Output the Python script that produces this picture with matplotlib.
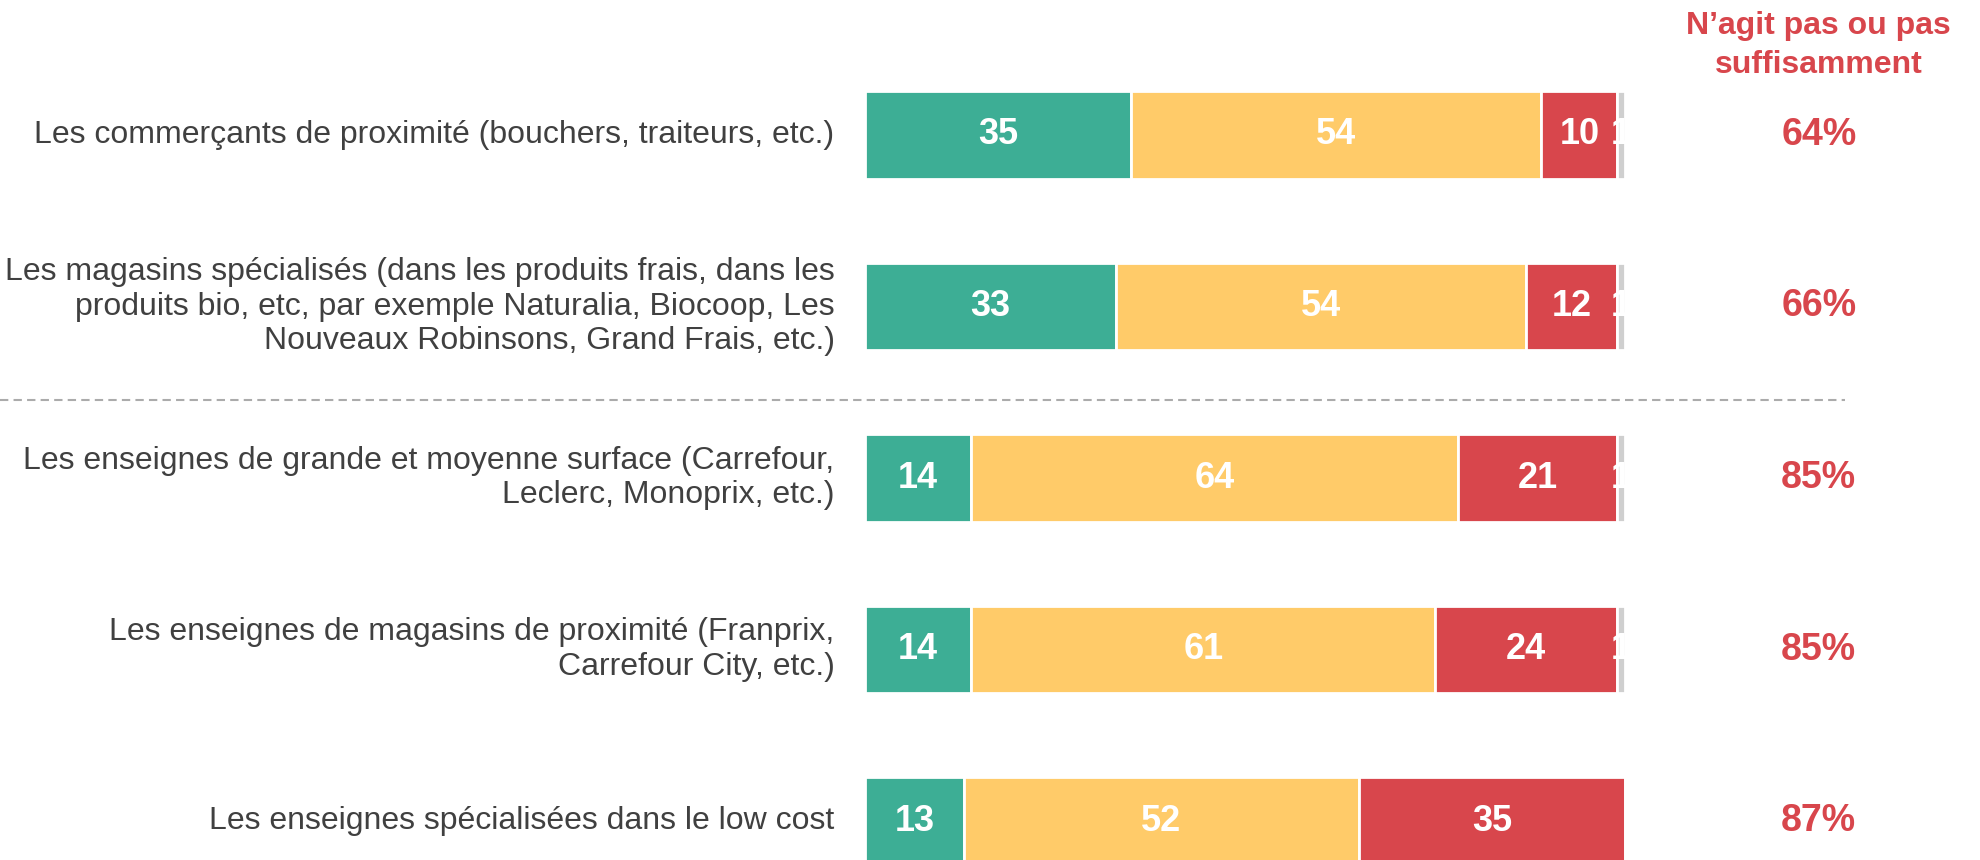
import matplotlib.pyplot as plt
import numpy as np

plt.rcParams['font.family'] = ['Liberation Sans', 'DejaVu Sans']

# data
categories = [
    "Les commerçants de proximité (bouchers, traiteurs, etc.)",
    "Les magasins spécialisés (dans les produits frais, dans les\nproduits bio, etc, par exemple Naturalia, Biocoop, Les\nNouveaux Robinsons, Grand Frais, etc.)",
    "Les enseignes de grande et moyenne surface (Carrefour,\nLeclerc, Monoprix, etc.)",
    "Les enseignes de magasins de proximité (Franprix,\nCarrefour City, etc.)",
    "Les enseignes spécialisées dans le low cost",
]
green_vals = [35, 33, 14, 14, 13]
yellow_vals = [54, 54, 64, 61, 52]
red_vals = [10, 12, 21, 24, 35]
grey_vals = [1, 1, 1, 1, 0]
pct_not_enough = [64, 66, 85, 85, 87]
header = "N’agit pas ou pas\nsuffisamment"

colors = ['#3DAE95', '#FFCB69', '#D8464C', '#CFCFCF']
red_txt = '#D8464C'

fig = plt.figure(figsize=(19.8, 8.6), dpi=100)
# bars span 865px -> 1625px horizontally
ax = fig.add_axes([865 / 1980, 0, 760 / 1980, 1])
ax.set_xlim(0, 100)
row_h = 171.5
ax.set_ylim((860 - 135) / row_h, -135 / row_h)
ax.axis('off')

y = np.arange(len(categories))
left = np.zeros(len(categories))
series = [green_vals, yellow_vals, red_vals, grey_vals]
for vals, col in zip(series, colors):
    vals = np.array(vals, dtype=float)
    ax.barh(y, vals, left=left, height=0.51, color=col, edgecolor='white', linewidth=2)
    for yi, (l, v) in enumerate(zip(left, vals)):
        if v > 0:
            ax.text(l + v / 2, yi, f"{v:.0f}", ha='center', va='center',
                    color='white', fontsize=26, fontweight='bold', clip_on=False)
    left += vals

for yi, cat in enumerate(categories):
    ax.text(-4, yi, cat, ha='right', va='center', fontsize=23,
            color='#404040', linespacing=1.2)
    ax.text(125.5, yi, f"{pct_not_enough[yi]}%", ha='center', va='center',
            fontsize=27, fontweight='bold', color=red_txt, clip_on=False)

ax.text(125.5, -0.52, header, ha='center', va='center', fontsize=23,
        fontweight='bold', color=red_txt, linespacing=1.38)

# separator between the shops and the chains
ax.plot([-113.8, 129], [1.545, 1.545], ls=(0, (4, 2.5)), color='#ABABAB',
        lw=1.5, clip_on=False)

fig.savefig('out.png', dpi=100)
